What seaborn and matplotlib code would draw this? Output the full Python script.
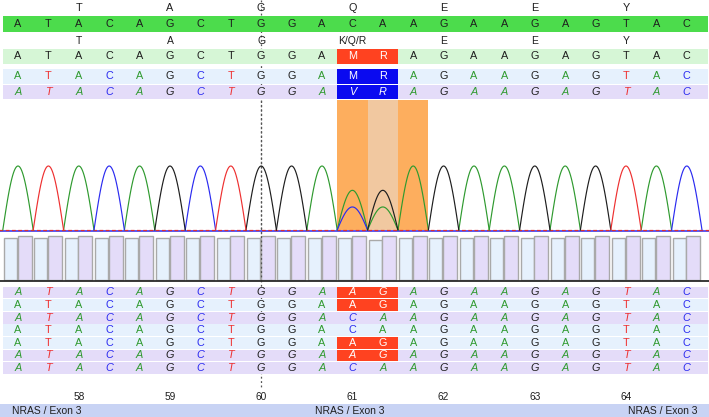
"""Sanger chromatogram view, NRAS exon 3 codon 61 (recreated with seaborn)."""
import matplotlib

matplotlib.use("Agg")
import matplotlib.pyplot as plt
from matplotlib.patches import Rectangle
import numpy as np
import pandas as pd
import seaborn as sns

sns.set_theme(style="white")
plt.rcParams["font.family"] = ["Liberation Sans", "DejaVu Sans"]

# ---------------- data ----------------
ref_seq = list("ATACAGCTGGACAAGAAGAGTAC")
codon_cols = [2, 5, 8, 11, 14, 17, 20]
aa_ref = ["T", "A", "G", "Q", "E", "E", "Y"]
aa_sample = ["T", "A", "G", "K/Q/R", "E", "E", "Y"]
codon_numbers = [58, 59, 60, 61, 62, 63, 64]
variant_cols = [11, 12]
sample_calls = ["M", "R"]
sample_calls_alt = ["V", "R"]

# lower read rows: calls at the variant columns, hit flag, italic flag
read_calls = [("A", "G"), ("A", "G"), ("C", "A"), ("C", "A"),
              ("A", "G"), ("A", "G"), ("C", "A")]
read_hit = [True, True, False, False, True, True, False]
read_italic = [True, False, True, False, False, True, True]

# chromatogram peak heights per channel (relative)
peak_A = [1, 0, 1, 0, 1, 0, 0, 0, 0, 0, 1, .62, .36, 1, 0, 1, 1, 0, 1, 0, 0, 1, 0]
peak_C = [0, 0, 0, 1, 0, 0, 1, 0, 0, 0, 0, .36, 0, 0, 0, 0, 0, 0, 0, 0, 0, 0, 1]
peak_G = [0, 0, 0, 0, 0, 1, 0, 0, 1, 1, 0, 0, .62, 0, 1, 0, 0, 1, 0, 1, 0, 0, 0]
peak_T = [0, 1, 0, 0, 0, 0, 0, 1, 0, 0, 0, 0, 0, 0, 0, 0, 0, 0, 0, 0, 1, 0, 0]

# quality bars (two per base)
qual_fwd = [42, 42, 42, 42, 42, 42, 42, 42, 42, 42, 42, 42, 40, 42, 42, 42, 42, 42, 42, 42, 42, 42, 42]
qual_rev = [44, 44, 44, 44, 44, 44, 44, 44, 44, 44, 44, 44, 44, 44, 44, 44, 44, 44, 44, 44, 44, 44, 44]

gene_label = "NRAS / Exon 3"

# ---------------- styles ----------------
BASE_COL = {"A": "#2f9a2f", "C": "#2b2bf0", "G": "#1e1e1e", "T": "#ee3030"}
GREEN_BAR = "#4cdc4c"
LT_GREEN = "#d6f6d6"
LT_BLUE = "#e6f1fd"
LAVENDER = "#e4dcf9"
RED = "#ff4220"
BLUE = "#0a0af0"
ORANGE = "#fdae5e"
PEACH = "#f1c8a0"
FOOT = "#c8d3f4"
FS = 7.8

N = len(ref_seq)
X0, STEP = 18.0, 30.4        # pixel centre of the first base / column pitch


def px(x):
    return (x - X0) / STEP


fig = plt.figure(figsize=(7.09, 4.17), dpi=100)
ax = fig.add_axes([0, 0, 1, 1])
ax.set_axis_off()


def band(y0, y1, color, x0=-0.5, x1=N - 0.5 + 0.2, z=1):
    ax.add_patch(Rectangle((x0, y0), x1 - x0, y1 - y0, color=color, lw=0, zorder=z))


def letters(y, seq, colored=False, italic=False, color="#1e1e1e", skip=()):
    for i, b in enumerate(seq):
        if i in skip:
            continue
        ax.text(i, y, b, ha="center", va="center", fontsize=FS,
                style="italic" if italic else "normal",
                color=BASE_COL[b] if colored else color, zorder=5)


# --- top: amino acids + reference ---
for c, a in zip(codon_cols, aa_ref):
    ax.text(c, 8, a, ha="center", va="center", fontsize=FS, color="#1e1e1e")
band(16, 31.5, GREEN_BAR, z=2)
letters(24, ref_seq)
for c, a in zip(codon_cols, aa_sample):
    ax.text(c, 40.5, a, ha="center", va="center", fontsize=FS - 0.3, color="#1e1e1e")

# --- sample consensus rows ---
band(48.5, 63.5, LT_GREEN)
letters(56, ref_seq, skip=variant_cols)
band(68.5, 83.5, LT_BLUE)
letters(76, ref_seq, colored=True, skip=variant_cols)
band(84.5, 99, LAVENDER)
letters(91.5, ref_seq, colored=True, italic=True, skip=variant_cols)

v0, v1 = variant_cols[0] - 0.5, variant_cols[-1] + 0.5
for (y0, y1, col, calls, it) in [(48.5, 63.5, RED, sample_calls, False),
                                 (68.5, 83.5, BLUE, sample_calls, False),
                                 (84.5, 99, BLUE, sample_calls_alt, True)]:
    ax.add_patch(Rectangle((v0, y0), v1 - v0, y1 - y0, color=col, lw=0, zorder=3))
    for c, s in zip(variant_cols, calls):
        ax.text(c, (y0 + y1) / 2, s, ha="center", va="center", fontsize=FS,
                color="white", style="italic" if it else "normal", zorder=5)

# --- chromatogram ---
TOP, BASE = 100, 230
ax.add_patch(Rectangle((10.5, TOP), 3, BASE - TOP, color=ORANGE, lw=0, zorder=1))
ax.add_patch(Rectangle((11.5, TOP), 1, BASE - TOP, color=PEACH, lw=0, zorder=1.1))

recs = []
t = np.linspace(0, 1, 41)
for base, heights in zip("ACGT", [peak_A, peak_C, peak_G, peak_T]):
    for i, h in enumerate(heights):
        if h <= 0:
            continue
        for tt in t:
            recs.append({"x": i - 0.5 + tt, "y": BASE - 64 * h * np.sin(np.pi * tt),
                         "base": base, "peak": f"{base}{i}"})
trace = pd.DataFrame(recs)
sns.lineplot(data=trace, x="x", y="y", hue="base", units="peak", estimator=None,
             palette=BASE_COL, sort=False, legend=False, lw=0.85, ax=ax, zorder=4)
ax.plot([-1, N], [231, 231], color="#2b2bf0", lw=1.1, zorder=3)
ax.plot([-1, N], [229.5, 229.5], color="#e03030", lw=0.9, ls=(0, (3, 2)), zorder=3.5)

# --- quality bars ---
QB = 280
idx = np.arange(N)
ax.bar(idx - 0.255, -np.array(qual_fwd), bottom=QB, width=0.43, color=LT_BLUE,
       edgecolor="#a9a9a9", lw=1.0, zorder=2)
ax.bar(idx + 0.215, -np.array(qual_rev), bottom=QB, width=0.46, color=LAVENDER,
       edgecolor="#a9a9a9", lw=1.0, zorder=2)
ax.plot([-1, N], [281, 281], color="#2a2a2a", lw=1.3, zorder=3)

# --- individual reads ---
for r, (calls, hit, it) in enumerate(zip(read_calls, read_hit, read_italic)):
    y0 = 286.5 + r * 12.6
    y1 = y0 + 11.8
    ym = (y0 + y1) / 2
    band(y0, y1, LAVENDER if it else LT_BLUE)
    letters(ym, ref_seq, colored=True, italic=it, skip=variant_cols)
    if hit:
        ax.add_patch(Rectangle((v0, y0), v1 - v0, y1 - y0, color=RED, lw=0, zorder=3))
    for c, s in zip(variant_cols, calls):
        ax.text(c, ym, s, ha="center", va="center", fontsize=FS,
                color="white" if hit else BASE_COL[s],
                style="italic" if it else "normal", zorder=5)

# --- dotted guide at codon 60 (behind the text rows, over chromatogram/bars) ---
ax.plot([8, 8], [0, 388], color="#555555", lw=0.9, ls=(0, (1.5, 2)), zorder=0.5)
ax.plot([8, 8], [TOP, 281], color="#555555", lw=0.9, ls=(0, (1.5, 2)), zorder=2.5)

# --- codon numbers + footer ---
for c, n in zip(codon_cols, codon_numbers):
    ax.text(c, 397, str(n), ha="center", va="center", fontsize=7.3, color="#1e1e1e")
band(404, 417, FOOT, x0=px(0), x1=px(709))
ax.text(px(12), 411, gene_label, ha="left", va="center", fontsize=7.5, color="#1e1e1e")
ax.text(px(315), 411, gene_label, ha="left", va="center", fontsize=7.5, color="#1e1e1e")
ax.text(px(697), 411, gene_label, ha="right", va="center", fontsize=7.5, color="#1e1e1e")

ax.set_xlim(px(0), px(709))
ax.set_ylim(417, 0)
fig.savefig("out.png", dpi=100)
plt.close(fig)
